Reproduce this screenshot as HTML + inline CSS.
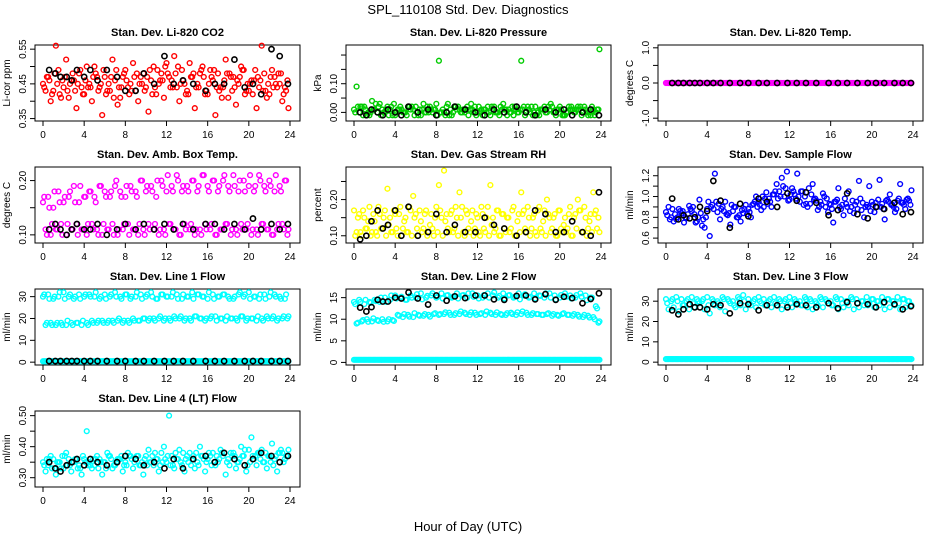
<!DOCTYPE html>
<html><head><meta charset="utf-8"><style>
body{margin:0;background:#fff;}
svg{display:block;font-family:"Liberation Sans",sans-serif;}
</style></head><body>
<svg id="c" width="936" height="540" viewBox="0 0 936 540">
<rect width="936" height="540" fill="#fff"/>
<text x="468" y="14" font-size="13" text-anchor="middle">SPL_110108  Std. Dev. Diagnostics</text>
<text x="468" y="531" font-size="13" text-anchor="middle">Hour of Day (UTC)</text>
</svg>
<script>
const hoursA=[0,0.5,1,1.5,2,2.5,3,3.5,4,4.5,5,5.5,6,6.5,7,7.5,8,8.5,9,9.5,10,10.5,11,11.5,12,12.5,13,13.5,14,14.5,15,15.5,16,16.5,17,17.5,18,18.5,19,19.5,20,20.5,21,21.5,22,22.5,23,23.5];
const hoursB=[0.25,0.75,1.25,1.75,2.25,2.75,3.25,3.75,4.25,4.75,5.25,5.75,6.25,6.75,7.25,7.75,8.25,8.75,9.25,9.75,10.25,10.75,11.25,11.75,12.25,12.75,13.25,13.75,14.25,14.75,15.25,15.75,16.25,16.75,17.25,17.75,18.25,18.75,19.25,19.75,20.25,20.75,21.25,21.75,22.25,22.75,23.25,23.85];
const hoursC=[0.12,0.62,1.12,1.62,2.12,2.62,3.12,3.62,4.12,4.62,5.12,5.62,6.12,6.62,7.12,7.62,8.12,8.62,9.12,9.62,10.12,10.62,11.12,11.62,12.12,12.62,13.12,13.62,14.12,14.62,15.12,15.62,16.12,16.62,17.12,17.62,18.12,18.62,19.12,19.62,20.12,20.62,21.12,21.62,22.12,22.62,23.12,23.62];
const hoursD=[0.38,0.88,1.38,1.88,2.38,2.88,3.38,3.88,4.38,4.88,5.38,5.88,6.38,6.88,7.38,7.88,8.38,8.88,9.38,9.88,10.38,10.88,11.38,11.88,12.38,12.88,13.38,13.88,14.38,14.88,15.38,15.88,16.38,16.88,17.38,17.88,18.38,18.88,19.38,19.88,20.38,20.88,21.38,21.88,22.38,22.88,23.38,23.75];
const hoursK=[0.6,1.2,1.7,2.3,2.8,3.3,4,4.6,5.3,6.2,7.2,8,9,9.8,10.8,11.8,12.7,13.6,14.6,15.8,16.7,17.6,18.6,19.6,20.4,21.2,22.2,23,23.8];
const xTicks=[0,4,8,12,16,20,24];

const co2A=[0.45,0.47,0.43,0.49,0.44,0.41,0.46,0.48,0.42,0.45,0.50,0.44,0.47,0.43,0.46,0.41,0.49,0.45,0.43,0.47,0.44,0.46,0.42,0.48,0.51,0.46,0.44,0.49,0.43,0.47,0.45,0.50,0.42,0.46,0.48,0.44,0.41,0.47,0.45,0.49,0.43,0.46,0.44,0.48,0.42,0.47,0.45,0.44];
const co2B=[0.43,0.40,0.56,0.41,0.52,0.46,0.38,0.44,0.50,0.40,0.47,0.36,0.43,0.52,0.39,0.47,0.44,0.51,0.40,0.48,0.37,0.50,0.45,0.41,0.47,0.53,0.40,0.45,0.51,0.38,0.48,0.42,0.49,0.36,0.44,0.52,0.47,0.39,0.50,0.43,0.46,0.38,0.56,0.41,0.49,0.44,0.40,0.38];
const co2C=[0.44,0.46,0.48,0.42,0.47,0.45,0.43,0.49,0.46,0.44,0.48,0.45,0.42,0.47,0.49,0.44,0.46,0.43,0.48,0.45,0.47,0.42,0.49,0.46,0.48,0.44,0.50,0.46,0.42,0.48,0.44,0.47,0.45,0.49,0.43,0.46,0.48,0.44,0.47,0.42,0.45,0.49,0.46,0.43,0.47,0.45,0.48,0.43];
const co2D=[0.47,0.42,0.45,0.46,0.43,0.48,0.45,0.42,0.44,0.47,0.43,0.49,0.45,0.41,0.44,0.48,0.42,0.47,0.45,0.43,0.49,0.44,0.46,0.50,0.44,0.48,0.45,0.42,0.47,0.44,0.49,0.43,0.47,0.44,0.41,0.48,0.43,0.46,0.49,0.45,0.42,0.47,0.43,0.45,0.44,0.48,0.42,0.46];
const co2K=[0.49,0.48,0.47,0.47,0.46,0.49,0.47,0.49,0.46,0.49,0.47,0.43,0.43,0.48,0.45,0.53,0.45,0.46,0.45,0.43,0.45,0.45,0.52,0.44,0.45,0.42,0.55,0.53,0.45];

const presA=[0.01,0.00,0.02,-0.01,0.01,0.03,0.00,0.01,-0.01,0.02,0.00,0.01,0.02,-0.01,0.00,0.01,0.03,0.00,0.02,-0.01,0.01,0.00,0.02,0.01,0.00,-0.01,0.02,0.01,0.00,0.03,0.01,-0.01,0.00,0.02,0.01,0.00,-0.01,0.02,0.01,0.00,0.02,-0.01,0.01,0.00,0.02,0.01,-0.01,0.00];
const presB=[0.09,0.02,-0.01,0.04,0.00,0.01,0.02,-0.01,0.01,0.00,0.02,0.01,-0.01,0.03,0.00,0.01,0.18,0.00,-0.01,0.02,0.01,0.00,0.01,0.02,0.00,0.01,-0.01,0.00,0.02,0.01,0.00,0.01,0.18,0.00,0.02,-0.01,0.01,0.00,0.02,0.01,-0.01,0.00,0.01,0.02,0.00,-0.01,0.01,0.22];
const presC=[0.00,0.02,0.01,0.00,0.03,-0.01,0.01,0.02,0.00,0.01,-0.01,0.02,0.00,0.01,0.02,0.00,-0.01,0.01,0.03,0.00,0.02,0.01,-0.01,0.00,0.02,0.01,0.00,0.02,-0.01,0.01,0.00,0.02,0.01,-0.01,0.00,0.02,0.01,0.00,0.03,-0.01,0.01,0.00,0.02,0.01,-0.01,0.00,0.02,0.01];
const presD=[0.02,-0.01,0.00,0.01,0.02,0.00,-0.01,0.03,0.01,0.00,0.02,-0.01,0.01,0.00,0.02,0.01,0.00,-0.01,0.01,0.02,0.00,0.01,0.03,-0.01,0.01,0.00,0.02,0.00,0.01,-0.01,0.02,0.00,0.01,0.02,-0.01,0.00,0.01,0.02,0.00,0.01,-0.01,0.02,0.00,0.01,0.02,0.00,-0.01,0.01];
const presK=[0.00,-0.01,0.01,0.00,-0.01,0.01,0.00,-0.01,0.02,0.00,0.01,-0.01,0.00,0.02,0.01,0.00,-0.01,0.01,0.00,0.02,0.00,-0.01,0.01,0.00,0.01,-0.01,0.00,0.01,-0.01];

const tempA=[0,0,0,0,0,0,0,0,0,0,0,0,0,0,0,0,0,0,0,0,0,0,0,0,0,0,0,0,0,0,0,0,0,0,0,0,0,0,0,0,0,0,0,0,0,0,0,0];
const tempK=[0,0,0,0,0,0,0,0,0,0,0,0,0,0,0,0,0,0,0,0,0,0,0,0,0,0,0,0,0];

const ambA=[0.16,0.17,0.15,0.18,0.16,0.17,0.19,0.16,0.17,0.18,0.17,0.19,0.18,0.17,0.19,0.18,0.17,0.19,0.18,0.20,0.18,0.19,0.17,0.20,0.18,0.19,0.21,0.18,0.19,0.20,0.18,0.21,0.19,0.20,0.18,0.20,0.19,0.21,0.18,0.20,0.19,0.18,0.21,0.19,0.20,0.18,0.19,0.20];
const ambB=[0.11,0.10,0.11,0.12,0.10,0.11,0.12,0.11,0.10,0.12,0.11,0.10,0.11,0.12,0.10,0.11,0.12,0.11,0.10,0.11,0.12,0.11,0.10,0.11,0.12,0.11,0.10,0.12,0.11,0.10,0.11,0.12,0.11,0.10,0.11,0.12,0.10,0.11,0.12,0.11,0.10,0.11,0.12,0.11,0.10,0.11,0.12,0.11];
const ambC=[0.17,0.15,0.18,0.16,0.17,0.18,0.16,0.19,0.17,0.18,0.16,0.19,0.17,0.18,0.20,0.17,0.19,0.18,0.17,0.20,0.19,0.18,0.20,0.19,0.21,0.18,0.20,0.19,0.18,0.20,0.19,0.21,0.18,0.20,0.19,0.21,0.18,0.19,0.20,0.18,0.21,0.19,0.20,0.18,0.19,0.21,0.18,0.20];
const ambD=[0.10,0.12,0.11,0.10,0.12,0.11,0.10,0.11,0.12,0.11,0.10,0.12,0.11,0.10,0.11,0.12,0.10,0.11,0.12,0.10,0.11,0.12,0.11,0.10,0.12,0.11,0.10,0.11,0.12,0.11,0.10,0.11,0.12,0.10,0.11,0.12,0.11,0.10,0.11,0.12,0.11,0.10,0.12,0.11,0.10,0.12,0.11,0.10];
const ambK=[0.11,0.12,0.11,0.10,0.11,0.12,0.11,0.11,0.12,0.10,0.11,0.12,0.11,0.12,0.11,0.12,0.11,0.12,0.11,0.12,0.12,0.11,0.12,0.11,0.13,0.11,0.12,0.11,0.12];

const rhA=[0.17,0.16,0.15,0.18,0.14,0.16,0.17,0.15,0.16,0.18,0.15,0.17,0.16,0.14,0.17,0.16,0.18,0.15,0.16,0.17,0.15,0.18,0.16,0.17,0.15,0.16,0.18,0.15,0.17,0.16,0.15,0.18,0.16,0.17,0.15,0.16,0.18,0.17,0.15,0.16,0.17,0.15,0.18,0.16,0.17,0.15,0.16,0.17];
const rhB=[0.11,0.10,0.12,0.11,0.10,0.12,0.23,0.11,0.10,0.12,0.11,0.21,0.10,0.12,0.11,0.10,0.24,0.28,0.11,0.12,0.22,0.10,0.11,0.12,0.10,0.11,0.24,0.12,0.10,0.11,0.12,0.10,0.22,0.11,0.12,0.10,0.11,0.20,0.12,0.10,0.11,0.12,0.10,0.20,0.11,0.12,0.22,0.11];
const rhC=[0.10,0.11,0.12,0.10,0.11,0.12,0.10,0.11,0.12,0.10,0.11,0.10,0.12,0.11,0.10,0.12,0.11,0.10,0.12,0.11,0.10,0.11,0.12,0.10,0.11,0.12,0.10,0.11,0.10,0.12,0.11,0.10,0.11,0.12,0.10,0.11,0.12,0.10,0.11,0.10,0.12,0.11,0.10,0.12,0.11,0.10,0.11,0.12];
const rhD=[0.15,0.17,0.14,0.16,0.18,0.15,0.13,0.17,0.16,0.14,0.18,0.15,0.17,0.16,0.13,0.15,0.17,0.14,0.16,0.18,0.15,0.17,0.14,0.16,0.18,0.15,0.13,0.17,0.16,0.15,0.17,0.14,0.16,0.18,0.15,0.17,0.14,0.16,0.15,0.17,0.13,0.16,0.15,0.17,0.18,0.14,0.16,0.15];
const rhK=[0.09,0.10,0.14,0.17,0.12,0.13,0.17,0.10,0.18,0.10,0.11,0.16,0.11,0.13,0.11,0.11,0.15,0.13,0.12,0.10,0.11,0.17,0.16,0.11,0.11,0.14,0.11,0.10,0.22];

const sfA=[0.85,0.80,0.78,0.84,0.79,0.86,0.76,0.72,0.88,0.92,0.85,0.90,0.82,0.86,0.80,0.84,0.88,0.93,0.95,0.90,0.98,1.02,1.05,1.00,0.97,1.02,0.95,1.00,0.93,0.98,0.95,0.90,0.92,0.95,0.88,0.93,0.90,0.95,0.87,0.92,0.95,0.90,0.93,0.97,0.92,0.96,0.94,0.98];
const sfB=[0.90,0.76,0.88,0.75,0.91,0.83,0.97,0.70,0.62,1.22,0.78,0.95,0.73,0.90,0.76,0.92,0.80,1.00,0.87,1.04,0.90,1.12,1.18,1.24,1.08,1.22,1.05,0.90,1.12,0.87,1.03,0.85,0.75,1.08,0.82,1.05,0.84,1.15,0.80,1.10,0.85,1.16,0.78,1.02,0.85,1.12,0.88,1.06];
const sfC=[0.82,0.88,0.80,0.86,0.83,0.90,0.80,0.78,0.95,0.88,0.93,0.86,0.84,0.90,0.82,0.88,0.85,0.95,0.92,0.98,0.95,1.05,1.00,1.08,1.02,0.98,1.05,0.93,1.02,0.96,0.92,0.98,0.88,0.97,0.92,0.90,0.96,0.88,0.94,0.90,0.92,0.97,0.88,0.95,0.90,0.98,0.92,0.96];
const sfD=[0.78,0.83,0.86,0.80,0.88,0.75,0.84,0.80,0.90,0.95,0.88,0.83,0.92,0.80,0.87,0.83,0.92,0.90,1.00,0.93,1.02,0.98,1.10,0.96,1.05,1.00,0.92,1.08,0.97,0.90,1.00,0.93,0.95,0.90,0.98,0.86,0.92,0.98,0.90,0.86,0.94,0.90,0.96,0.92,0.88,0.94,0.97,0.92];
const sfK=[0.98,0.78,0.82,0.79,0.80,0.90,0.86,1.15,0.96,0.70,0.93,0.81,0.98,0.95,0.90,1.03,0.96,1.04,0.94,0.82,0.87,1.03,0.83,0.79,0.90,0.88,0.94,0.83,0.85];

const l1A=[30,31,29,30,32,30,29,31,30,31,30,29,31,30,32,30,31,29,30,31,30,32,29,31,30,30,31,29,30,32,31,30,29,31,30,31,30,29,31,30,32,30,29,31,30,31,30,29];
const l1B=[17,18,17,18,17,18,18,17,18,19,18,19,18,19,19,18,19,20,19,20,19,20,20,19,20,21,20,19,20,21,20,19,20,21,20,19,20,20,21,19,20,19,20,21,20,19,20,21];
const l1D=[31,29,30,32,29,31,30,29,31,30,32,30,29,31,30,29,31,30,32,29,31,30,29,31,30,32,29,31,30,29,31,30,32,29,30,31,29,30,32,31,29,30,31,29,32,30,29,31];
const l1E=[18,17,18,17,19,17,18,19,17,18,19,18,19,18,20,19,18,19,19,20,20,19,21,20,19,20,21,20,19,21,20,20,21,19,20,21,20,19,21,20,20,21,19,20,21,20,21,20];
const l1C=[0.4,0.4,0.4,0.4,0.4,0.4,0.4,0.4,0.4,0.4,0.4,0.4,0.4,0.4,0.4,0.4,0.4,0.4,0.4,0.4,0.4,0.4,0.4,0.4,0.4,0.4,0.4,0.4,0.4,0.4,0.4,0.4,0.4,0.4,0.4,0.4,0.4,0.4,0.4,0.4,0.4,0.4,0.4,0.4,0.4,0.4,0.4,0.4];
const l1K=[0.5,0.5,0.5,0.5,0.5,0.5,0.5,0.5,0.5,0.5,0.5,0.5,0.5,0.5,0.5,0.5,0.5,0.5,0.5,0.5,0.5,0.5,0.5,0.5,0.5,0.5,0.5,0.5,0.5];

const l2A=[14,14.5,13.5,14,14.5,14,15,14.5,15.5,15,14.5,15.5,15,16,15,15.5,15,16,15.5,15,16,15.5,15,16,15.5,15,16,15.5,15,16,15.5,15,16,15.5,15,16,15.5,15,16,15.5,15,16,15.5,15,16,15.5,15,13];
const l2B=[9,9.5,10,9.5,9.8,10,9.5,9.8,11,10.5,11,10.5,11,10.8,11,11.2,11,11.2,11.5,11,11.2,11.5,11,11.5,11.2,11,11.5,11,11.2,11,11.5,11,11.2,11.5,11,11.2,11,11.2,10.8,11,11.2,11,10.8,11,10.5,10.8,10.5,9.5];
const l2D=[13.5,14,14.5,13.8,14.2,15,14,15.5,14.8,15.2,14.5,15,15.8,14.6,15.4,16,15.2,14.8,15.6,15.2,14.8,15.6,16,15.2,14.8,15.6,15,16.2,15.4,14.8,15.6,15.2,14.6,15.8,15.2,14.8,15.4,16,15,14.6,15.6,15.2,14.8,15.6,15.2,14.4,15,12.5];
const l2E=[9.2,9.8,9.4,10.2,9.6,9.4,10,9.6,10.8,11.2,10.6,11.4,10.8,11.2,10.6,11.4,11.2,11.6,11,11.4,11.8,11.2,11.6,11,11.4,11.8,11.2,11.6,11,11.4,11.2,11.6,11.8,11,11.4,11.2,11,11.4,11.2,10.8,11.4,11,11.2,10.6,11,10.4,10,9.2];
const l2C=[0.6,0.6,0.6,0.6,0.6,0.6,0.6,0.6,0.6,0.6,0.6,0.6,0.6,0.6,0.6,0.6,0.6,0.6,0.6,0.6,0.6,0.6,0.6,0.6,0.6,0.6,0.6,0.6,0.6,0.6,0.6,0.6,0.6,0.6,0.6,0.6,0.6,0.6,0.6,0.6,0.6,0.6,0.6,0.6,0.6,0.6,0.6,0.6];
const l2K=[12.7,11.8,12.8,14.5,14.1,14.1,15,14.8,16.2,14.8,13.4,15.5,14.3,15.3,14.9,15.5,15.5,14.6,14.5,15.4,15.5,14.6,15.8,14.5,15.2,14.9,13.7,14.7,16];

const l3A=[31,30,32,31,30,32,31,30,32,31,30,32,31,30,32,33,31,30,32,31,30,32,31,30,32,31,30,32,31,30,32,31,30,32,31,30,32,31,30,32,31,30,32,31,30,32,31,30];
const l3B=[26,27,25,28,26,27,29,26,24,28,27,25,29,27,28,26,28,27,29,28,27,28,26,28,27,29,28,27,26,28,27,29,28,26,27,28,26,27,28,29,27,28,26,27,28,26,27,28];
const l3D=[29,31,30,28,31,29,30,31,28,30,29,31,30,28,31,30,29,31,30,28,31,29,30,31,29,30,28,31,30,29,31,30,28,31,29,30,31,29,30,28,31,30,29,31,30,29,31,30];
const l3C=[1.5,1.5,1.5,1.5,1.5,1.5,1.5,1.5,1.5,1.5,1.5,1.5,1.5,1.5,1.5,1.5,1.5,1.5,1.5,1.5,1.5,1.5,1.5,1.5,1.5,1.5,1.5,1.5,1.5,1.5,1.5,1.5,1.5,1.5,1.5,1.5,1.5,1.5,1.5,1.5,1.5,1.5,1.5,1.5,1.5,1.5,1.5,1.5];
const l3K=[25.5,23.5,26,28.5,27,27,26,28.5,28,24,29,28.5,25.5,28,28,27,28.5,28,27,29,26.5,29.5,29,28.5,27,29.5,28.5,26,27.5];

const l4A=[0.35,0.34,0.36,0.35,0.33,0.36,0.35,0.34,0.36,0.35,0.34,0.36,0.35,0.37,0.34,0.36,0.35,0.37,0.36,0.34,0.37,0.35,0.36,0.38,0.35,0.37,0.36,0.34,0.37,0.36,0.35,0.37,0.36,0.38,0.35,0.37,0.36,0.38,0.35,0.37,0.39,0.36,0.38,0.35,0.37,0.36,0.38,0.36];
const l4B=[0.32,0.37,0.31,0.33,0.38,0.32,0.36,0.31,0.45,0.33,0.37,0.31,0.38,0.33,0.36,0.32,0.38,0.33,0.37,0.31,0.39,0.34,0.32,0.40,0.50,0.33,0.39,0.32,0.38,0.33,0.40,0.32,0.37,0.34,0.39,0.31,0.38,0.33,0.40,0.32,0.43,0.34,0.39,0.33,0.41,0.32,0.38,0.39];
const l4C=[0.34,0.36,0.33,0.35,0.37,0.34,0.36,0.33,0.35,0.34,0.36,0.35,0.33,0.36,0.35,0.37,0.34,0.36,0.37,0.35,0.34,0.37,0.36,0.35,0.37,0.34,0.36,0.38,0.35,0.37,0.34,0.36,0.38,0.35,0.36,0.38,0.34,0.37,0.36,0.39,0.35,0.37,0.36,0.38,0.35,0.37,0.39,0.37];
const l4D=[0.36,0.33,0.35,0.37,0.34,0.35,0.33,0.37,0.34,0.36,0.33,0.35,0.37,0.34,0.36,0.34,0.37,0.35,0.34,0.36,0.35,0.38,0.34,0.36,0.34,0.38,0.35,0.36,0.34,0.38,0.37,0.35,0.34,0.37,0.38,0.35,0.37,0.35,0.37,0.34,0.37,0.38,0.35,0.37,0.34,0.38,0.35,0.37];
const l4K=[0.35,0.33,0.32,0.34,0.35,0.36,0.34,0.36,0.35,0.34,0.35,0.37,0.36,0.34,0.35,0.33,0.36,0.33,0.36,0.37,0.35,0.38,0.36,0.34,0.36,0.38,0.37,0.35,0.37];

const svg=document.getElementById('c');
const NS='http://www.w3.org/2000/svg';
function mk(tag,attrs,parent){const e=document.createElementNS(NS,tag);for(const k in attrs)e.setAttribute(k,attrs[k]);(parent||svg).appendChild(e);return e;}

const colX=[35,346,658], rowY=[45,167,289,411], PW=265, PH=76;
const panels=[
 {key:'co2',title:'Stan. Dev. Li-820 CO2',ylab:'Li-cor ppm',col:0,row:0,ymin:0.343,ymax:0.562,ticks:[0.35,0.40,0.45,0.50,0.55],labs:['0.35','','0.45','','0.55'],color:'#ff0000',s:[[co2A,hoursA],[co2B,hoursB],[co2C,hoursC],[co2D,hoursD]],k:co2K},
 {key:'pressure',title:'Stan. Dev. Li-820 Pressure',ylab:'kPa',col:1,row:0,ymin:-0.03,ymax:0.235,ticks:[0,0.05,0.10,0.15,0.20],labs:['0.00','','0.10','',''],color:'#00cc00',s:[[presA,hoursA],[presB,hoursB],[presC,hoursC],[presD,hoursD]],k:presK},
 {key:'temp',title:'Stan. Dev. Li-820 Temp.',ylab:'degrees C',col:2,row:0,ymin:-1.08,ymax:1.08,ticks:[-1,-0.5,0,0.5,1],labs:['-1.0','','0.0','','1.0'],color:'#ff00ff',s:[[tempA,hoursA],[tempA,hoursB],[tempA,hoursC],[tempA,hoursD]],k:tempK},
 {key:'ambbox',title:'Stan. Dev. Amb. Box Temp.',ylab:'degrees C',col:0,row:1,ymin:0.085,ymax:0.225,ticks:[0.10,0.15,0.20],labs:['0.10','','0.20'],color:'#ff00ff',s:[[ambA,hoursA],[ambB,hoursB],[ambC,hoursC],[ambD,hoursD]],k:ambK},
 {key:'rh',title:'Stan. Dev. Gas Stream RH',ylab:'percent',col:1,row:1,ymin:0.08,ymax:0.29,ticks:[0.10,0.15,0.20,0.25],labs:['0.10','','0.20',''],color:'#ffff00',s:[[rhA,hoursA],[rhB,hoursB],[rhC,hoursC],[rhD,hoursD]],k:rhK},
 {key:'sampleflow',title:'Stan. Dev. Sample Flow',ylab:'ml/min',col:2,row:1,ymin:0.553,ymax:1.284,ticks:[0.6,0.7,0.8,0.9,1.0,1.1,1.2],labs:['0.6','','0.8','','1.0','','1.2'],color:'#0000ff',s:[[sfA,hoursA],[sfB,hoursB],[sfC,hoursC],[sfD,hoursD]],k:sfK},
 {key:'line1',title:'Stan. Dev. Line 1 Flow',ylab:'ml/min',col:0,row:2,ymin:-1.3,ymax:33.5,ticks:[0,10,20,30],labs:['0','10','20','30'],color:'#00ffff',s:[[l1A,hoursA],[l1B,hoursB],[l1D,hoursC],[l1E,hoursD],[l1C,hoursA],[l1C,hoursB],[l1C,hoursC],[l1C,hoursD]],k:l1K},
 {key:'line2',title:'Stan. Dev. Line 2 Flow',ylab:'ml/min',col:1,row:2,ymin:-0.6,ymax:17,ticks:[0,5,10,15],labs:['0','5','10','15'],color:'#00ffff',s:[[l2A,hoursA],[l2B,hoursB],[l2D,hoursC],[l2E,hoursD],[l2C,hoursA],[l2C,hoursB],[l2C,hoursC],[l2C,hoursD]],k:l2K},
 {key:'line3',title:'Stan. Dev. Line 3 Flow',ylab:'ml/min',col:2,row:2,ymin:-1.4,ymax:36,ticks:[0,10,20,30],labs:['0','10','20','30'],color:'#00ffff',s:[[l3A,hoursA],[l3B,hoursB],[l3D,hoursC],[l3C,hoursA],[l3C,hoursB],[l3C,hoursC],[l3C,hoursD]],k:l3K},
 {key:'line4',title:'Stan. Dev. Line 4 (LT) Flow',ylab:'ml/min',col:0,row:3,ymin:0.27,ymax:0.515,ticks:[0.30,0.35,0.40,0.45,0.50],labs:['0.30','','0.40','','0.50'],color:'#00ffff',s:[[l4A,hoursA],[l4B,hoursB],[l4C,hoursC],[l4D,hoursD]],k:l4K}
];

panels.forEach(p=>{
 const x0=colX[p.col], y0=rowY[p.row];
 const xs=h=>x0+8+(h/24)*247;
 const ys=v=>y0+PH-(v-p.ymin)/(p.ymax-p.ymin)*PH;
 const g=mk('g',{});
 
 
 const t=mk('text',{x:x0+PW/2,y:y0-9,'font-size':11,'font-weight':'bold','text-anchor':'middle'},g);
 t.textContent=p.title;
 
 
 const fr=mk('rect',{x:x0,y:y0,width:PW,height:PH,fill:'none',stroke:'#000','stroke-width':1},g);
 
 
 const xa=mk('g',{},g);
 
 
 mk('line',{x1:xs(0),x2:xs(24),y1:y0+PH,y2:y0+PH,stroke:'#000'},xa);
 xTicks.forEach(v=>{
  mk('line',{x1:xs(v),x2:xs(v),y1:y0+PH,y2:y0+PH+5,stroke:'#000'},xa);
  const tl=mk('text',{x:xs(v),y:y0+PH+17,'font-size':10,'text-anchor':'middle'},xa);
  tl.textContent=v;
 });
 const ya=mk('g',{},g);
 
 
 mk('line',{x1:x0,x2:x0,y1:ys(p.ticks[0]),y2:ys(p.ticks[p.ticks.length-1]),stroke:'#000'},ya);
 p.ticks.forEach((v,i)=>{
  mk('line',{x1:x0-5,x2:x0,y1:ys(v),y2:ys(v),stroke:'#000'},ya);
  if(p.labs[i]){
   const tl=mk('text',{x:x0-9,y:ys(v),'font-size':10,'text-anchor':'middle',transform:`rotate(-90 ${x0-9} ${ys(v)})`},ya);
   tl.textContent=p.labs[i];
  }
 });
 const yl=mk('text',{x:x0-25,y:y0+PH/2,'font-size':10,'text-anchor':'middle',transform:`rotate(-90 ${x0-25} ${y0+PH/2})`},g);
 yl.textContent=p.ylab;
 
 
 p.s.forEach((pair,si)=>{
  const arr=pair[0], hs=pair[1];
  const sg=mk('g',{fill:'none',stroke:p.color,'stroke-width':1.4},g);
  
  
  arr.forEach((v,i)=>{
   const c=mk('circle',{cx:xs(hs[i]),cy:ys(v),r:2.4},sg);
   
   
  });
 });
 const kg=mk('g',{fill:'none',stroke:'#000','stroke-width':1.6},g);
 
 
 p.k.forEach((v,i)=>{
  const c=mk('circle',{cx:xs(hoursK[i]),cy:ys(v),r:2.6},kg);
  
  
 });
});
</script>
</body></html>
